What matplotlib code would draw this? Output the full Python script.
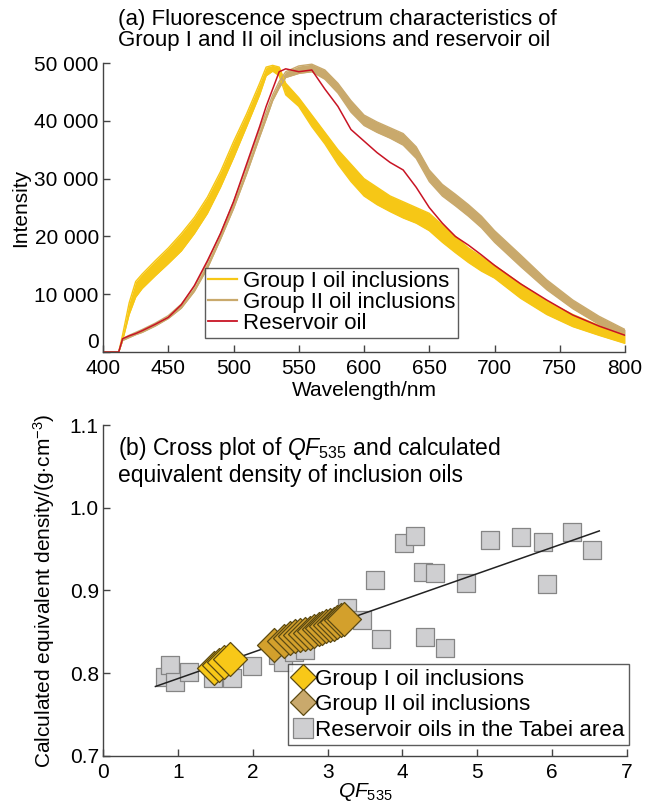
import numpy as np
import matplotlib
matplotlib.use("Agg")
import matplotlib.pyplot as plt
from matplotlib.lines import Line2D

plt.rcParams['font.family'] = ['Liberation Sans', 'DejaVu Sans']
plt.rcParams['mathtext.fontset'] = 'custom'
plt.rcParams['mathtext.rm'] = 'Liberation Sans'
plt.rcParams['mathtext.it'] = 'Liberation Sans:italic'

# ---- (a) fluorescence spectra ----
wavelength = [400, 412, 415, 420, 425, 430, 440, 450, 460, 470, 480, 490, 500,
              510, 520, 525, 530, 535, 540, 550, 560, 570, 580, 590, 600, 610,
              620, 630, 640, 650, 660, 670, 680, 690, 700, 720, 740, 760, 780, 800]
group1_hi = [0, 0, 3000, 8500, 12200, 13500, 15800, 18000, 20500, 23300, 26800,
             31200, 36400, 41200, 46500, 49300, 49600, 49300, 46500, 44000, 41000,
             38000, 35000, 32500, 30000, 28500, 27000, 26000, 25000, 24000, 22000,
             20000, 18000, 16500, 15000, 11800, 8800, 6500, 4600, 3000]
group1_lo = [0, 0, 2000, 6500, 9500, 11000, 13200, 15300, 17500, 20500, 24000,
             28500, 33600, 39000, 44500, 47800, 48600, 47800, 44500, 42500, 39000,
             36000, 32500, 29500, 27000, 25500, 24300, 23200, 22300, 21000, 19000,
             17200, 15500, 14000, 12800, 9300, 6500, 4400, 2900, 1500]
group2_hi = [0, 0, 2300, 2900, 3400, 3900, 5000, 6300, 8300, 11300, 15500, 20500,
             26000, 32000, 38500, 41500, 44500, 46800, 48500, 49500, 49800, 48800,
             46500, 43500, 41000, 39800, 38800, 37800, 35500, 31500, 29000, 27300,
             25500, 23500, 21000, 16800, 12500, 9000, 6200, 3900]
group2_lo = [0, 0, 2000, 2500, 3000, 3400, 4500, 5800, 7600, 10500, 14500, 19500,
             24800, 30800, 37200, 40300, 43500, 45700, 47500, 48200, 48500, 47200,
             44800, 41500, 39200, 38000, 37000, 35800, 33500, 29500, 27000, 25300,
             23500, 21500, 19000, 14800, 10800, 7500, 4800, 2900]
reservoir = [0, 0, 2300, 2800, 3200, 3700, 4800, 6000, 8200, 11500, 15800, 20500,
             26000, 32500, 39000, 42500, 45500, 48500, 49000, 48500, 48800, 45500,
             42500, 38500, 36500, 34500, 32800, 31500, 28500, 25000, 22300, 20000,
             18500, 16800, 15000, 11800, 9000, 6400, 4500, 2900]

# ---- (b) QF535 vs equivalent density ----
qf_group1 = [1.48, 1.55, 1.62, 1.70]
rho_group1 = [0.806, 0.810, 0.813, 0.817]
qf_group2 = [2.28, 2.42, 2.50, 2.57, 2.63, 2.70, 2.76, 2.82, 2.88, 2.93, 2.98,
             3.03, 3.08, 3.13, 3.18, 3.22]
rho_group2 = [0.834, 0.839, 0.842, 0.845, 0.846, 0.848, 0.849, 0.851, 0.854,
              0.855, 0.857, 0.858, 0.860, 0.862, 0.864, 0.865]
qf_tabei = [0.83, 0.90, 0.96, 1.15, 1.47, 1.72, 1.99, 2.34, 2.40, 2.55, 2.70,
            3.26, 3.46, 3.71, 3.63, 4.02, 4.17, 4.27, 4.43, 4.30, 4.57, 4.85,
            5.17, 5.59, 5.88, 5.93, 6.26, 6.53]
rho_tabei = [0.796, 0.810, 0.790, 0.802, 0.794, 0.794, 0.809, 0.822, 0.813,
             0.826, 0.828, 0.879, 0.864, 0.841, 0.913, 0.957, 0.966, 0.922,
             0.921, 0.844, 0.830, 0.909, 0.961, 0.965, 0.959, 0.908, 0.971,
             0.949]
fit_qf = [0.70, 6.63]
fit_rho = [0.784, 0.972]

c_g1 = '#F6C716'
c_g2 = '#C9A96C'
c_res = '#C81424'
c_g2_pt = '#D3A02C'
fs = 15

fig = plt.figure(figsize=(6.48, 8.01), dpi=100)

ax1 = fig.add_axes([0.159, 0.5605, 0.8055, 0.3608])
ax1.fill_between(wavelength, group1_lo, group1_hi, color=c_g1, lw=0)
ax1.plot(wavelength, group1_hi, color=c_g1, lw=1)
ax1.plot(wavelength, group1_lo, color=c_g1, lw=1)
ax1.fill_between(wavelength, group2_lo, group2_hi, color=c_g2, lw=0)
ax1.plot(wavelength, group2_hi, color=c_g2, lw=1)
ax1.plot(wavelength, group2_lo, color=c_g2, lw=1)
ax1.plot(wavelength, reservoir, color=c_res, lw=1.1)

ax1.set_xlim(400, 800)
ax1.set_ylim(0, 50000)
ax1.set_xticks(range(400, 801, 50))
ax1.set_yticks(range(0, 50001, 10000))
ax1.set_yticklabels(['0' if v == 0 else f'{v:,}'.replace(',', ' ')
                     for v in range(0, 50001, 10000)])
ax1.set_xlabel('Wavelength/nm', fontsize=fs, labelpad=2)
ax1.set_ylabel('Intensity', fontsize=fs)
ax1.yaxis.set_label_coords(-0.14, 0.5)

handles1 = [Line2D([], [], color=c_g1, lw=1.6),
            Line2D([], [], color=c_g2, lw=1.6),
            Line2D([], [], color=c_res, lw=1.3)]
leg1 = ax1.legend(handles1, ['Group I oil inclusions', 'Group II oil inclusions',
                             'Reservoir oil'],
                  loc='lower left', bbox_to_anchor=(0.195, 0.05), fontsize=16,
                  frameon=True, fancybox=False, edgecolor='#333333',
                  handlelength=1.3, handletextpad=0.25, labelspacing=0.0,
                  borderpad=0.15, borderaxespad=0)
leg1.get_frame().set_linewidth(1.0)

fig.text(118 / 648, 1 - 9 / 801,
         '(a) Fluorescence spectrum characteristics of\n'
         'Group I and II oil inclusions and reservoir oil',
         fontsize=16, ha='left', va='top', linespacing=1.0)

ax2 = fig.add_axes([0.159, 0.0562, 0.8086, 0.4132])
ax2.plot(fit_qf, fit_rho, color='#222222', lw=1.1, zorder=2)
ax2.scatter(qf_tabei, rho_tabei, marker='s', s=165, color='#CFCFD1',
            edgecolor='#858585', linewidth=0.9, zorder=1)
ax2.scatter(qf_group1, rho_group1, marker='D', s=300, color='#F8C818',
            edgecolor='#5C4A12', linewidth=0.9, zorder=3)
ax2.scatter(qf_group2, rho_group2, marker='D', s=300, color=c_g2_pt,
            edgecolor='#5C4A12', linewidth=0.9, zorder=3)

ax2.set_xlim(0, 7)
ax2.set_ylim(0.7, 1.1)
ax2.set_xticks(range(0, 8))
ax2.set_yticks([0.7, 0.8, 0.9, 1.0, 1.1])
ax2.set_yticklabels(['0.7', '0.8', '0.9', '1.0', '1.1'])
ax2.set_xlabel(r'$\mathit{QF}_{\mathrm{535}}$', fontsize=fs, labelpad=-1)
ax2.set_ylabel(r'Calculated equivalent density/(g$\cdot$cm$^{-3}$)', fontsize=fs)
ax2.yaxis.set_label_coords(-0.087, 0.5)
ax2.text(0.028, 0.97,
         '(b) Cross plot of $\\mathit{QF}_{\\mathrm{535}}$ and calculated\n'
         'equivalent density of inclusion oils',
         transform=ax2.transAxes, fontsize=16.5, ha='left', va='top',
         linespacing=1.1)

handles2 = [Line2D([], [], ls='', marker='D', ms=13, mfc='#F8C818',
                   mec='#5C4A12', mew=0.9),
            Line2D([], [], ls='', marker='D', ms=13, mfc=c_g2,
                   mec='#5C4A12', mew=0.9),
            Line2D([], [], ls='', marker='s', ms=15, mfc='#CFCFD1',
                   mec='#858585', mew=0.9)]
leg2 = ax2.legend(handles2, ['Group I oil inclusions', 'Group II oil inclusions',
                             'Reservoir oils in the Tabei area'],
                  loc='lower left', bbox_to_anchor=(0.353, 0.033), fontsize=16.2,
                  frameon=True, fancybox=False, edgecolor='#333333',
                  handlelength=0.9, handletextpad=0.1, labelspacing=0.2,
                  borderpad=0.2, borderaxespad=0)
leg2.get_frame().set_linewidth(1.0)

for ax in (ax1, ax2):
    ax.spines['top'].set_visible(False)
    ax.spines['right'].set_visible(False)
    for s in ('left', 'bottom'):
        ax.spines[s].set_color('#444444')
        ax.spines[s].set_linewidth(1.0)
    ax.tick_params(direction='in', length=5, width=1, color='#444444',
                   labelsize=fs)
    ax.tick_params(axis='x', pad=5)
    ax.tick_params(axis='y', pad=3)
ax1.get_yticklabels()[0].set_va('bottom')

fig.savefig('out.png', dpi=100)
